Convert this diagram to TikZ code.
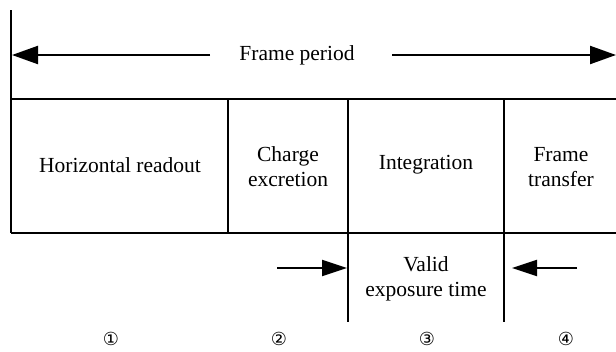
\documentclass[tikz,border=0pt]{standalone}
\usepackage{fontspec}
\setmainfont{Liberation Serif}
\newfontfamily\circfont{DejaVu Sans}
\usetikzlibrary{arrows.meta}
\begin{document}
\begin{tikzpicture}[x=1pt,y=-1pt,
  rule/.style={line width=2.2pt},
  arr/.style={line width=2.2pt,-{Triangle[length=26pt,width=18pt]}},
  sarr/.style={line width=2.2pt,-{Triangle[length=25pt,width=16pt]}},
  lbl/.style={font=\fontsize{21.5}{25}\selectfont,align=center,inner sep=0pt},
  num/.style={font=\circfont\fontsize{18}{20}\selectfont,inner sep=0pt}]
\useasboundingbox (0,0) rectangle (616,351);

% frame outline and phase dividers
\draw[rule] (11,10) -- (11,233);
\draw[rule] (11,99) -- (616,99);
\draw[rule] (11,233) -- (616,233);
\draw[rule] (228,99) -- (228,233);
\draw[rule] (348,99) -- (348,322);
\draw[rule] (504,99) -- (504,322);

% frame period dimension
\node[lbl] (fp) at (297,55) {Frame period};
\coordinate (fpL) at (210,55);
\coordinate (fpR) at (392,55);
\coordinate (tipL) at (12,55);
\coordinate (tipR) at (616,55);
\draw[arr] (fpL) -- (tipL);
\draw[arr] (fpR) -- (tipR);

% phases
\node[lbl] (hr) at (120,165) {Horizontal readout};
\node[lbl] (ce) at (288,167) {Charge\\excretion};
\node[lbl] (ig) at (426,165) {Integration};
\node[lbl] (ft) at (561,167) {Frame\\transfer};

% valid exposure window
\node[lbl] (ve) at (426,279) {Valid\\exposure time};
\coordinate (vaL) at (277,268);
\coordinate (vaLt) at (347,268);
\coordinate (vaR) at (577,268);
\coordinate (vaRt) at (512,268);
\draw[sarr] (vaL) -- (vaLt);
\draw[sarr] (vaR) -- (vaRt);

% phase numbers
\node[num] (n1) at (111,339) {①};
\node[num] (n2) at (279,339) {②};
\node[num] (n3) at (427,339) {③};
\node[num] (n4) at (566,339) {④};
\end{tikzpicture}
\end{document}
